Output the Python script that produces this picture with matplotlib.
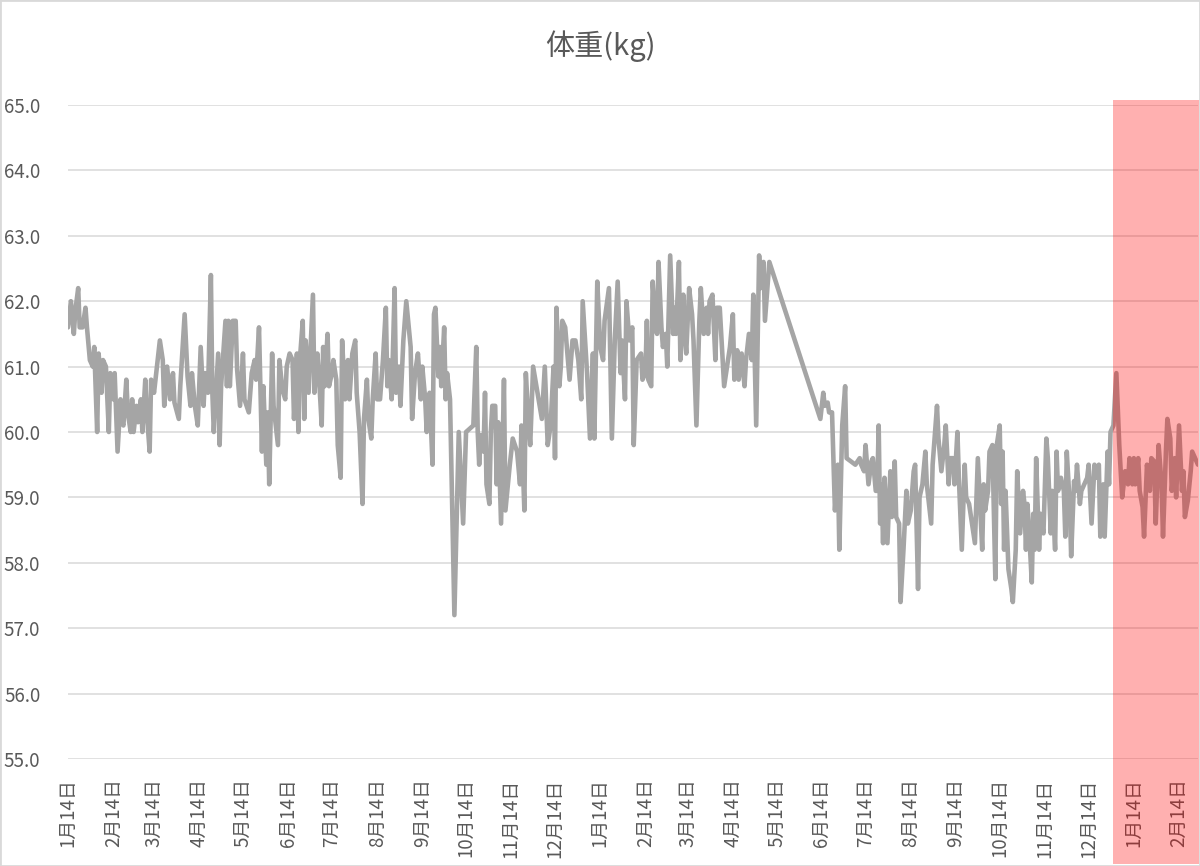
import numpy as np
import pandas as pd
import matplotlib
matplotlib.use('Agg')
import matplotlib.pyplot as plt
import matplotlib.dates as mdates
from matplotlib.patches import Rectangle
from matplotlib.ticker import FormatStrFormatter

plt.rcParams['font.family'] = ['Noto Sans CJK JP', 'DejaVu Sans']

start = pd.Timestamp('2019-01-14')
days = [
    0, 2, 4, 5, 7, 8, 10, 12, 13, 15, 17, 18, 20, 21, 23, 24, 26, 28, 29, 31,
    32, 34, 36, 37, 38, 40, 41, 43, 44, 45, 47, 48, 50, 51, 53, 54, 56, 57, 59, 60,
    63, 65, 66, 68, 70, 72, 73, 76, 77, 80, 82, 84, 85, 87, 89, 91, 93, 94, 96, 98,
    99, 100, 103, 104, 105, 108, 109, 110, 111, 113, 115, 116, 118, 120, 121, 124,
    126, 128, 129, 131, 133, 134, 136, 137, 138, 140, 141, 144, 145, 147, 149, 150, 152, 154, 155, 157,
    158, 159, 161, 162, 163, 165, 168, 169, 171, 172, 174, 175, 176, 178, 179, 181, 182, 184, 185, 187,
    188, 190, 192, 193, 195, 197, 198, 200, 202, 203, 205, 206, 208, 209, 211, 212, 214, 216, 218, 219,
    220, 222, 224, 225, 227, 228, 230, 232, 235, 236, 238, 240, 242, 243, 245, 246, 248, 250, 251, 252,
    254, 255, 256, 258, 259, 260, 262, 265, 268, 271, 273, 278, 280, 281, 282, 283, 285, 286, 287, 289,
    290, 291, 293, 294, 295, 297, 299, 300, 303, 305, 308, 310, 311, 313, 314, 316, 317, 319, 322, 325,
    327, 329, 331, 333, 334, 335, 337, 338, 339, 341, 344, 346, 348, 350, 352, 353, 356, 358, 360, 361,
    363,
    365, 367, 368, 371, 373, 375, 377, 379, 380, 382, 383, 385, 387, 388, 390, 393, 394, 396, 397, 398,
    400, 401, 403, 404, 405, 407, 408, 410, 411, 413, 415, 416, 417, 419, 420, 422, 423, 424, 426, 428,
    429, 431, 433, 434, 436, 438, 439, 440, 442, 444, 445, 447, 448, 450, 452, 454, 456, 457, 459, 460,
    462, 464, 465, 467, 469, 470, 472, 474, 475, 477, 478, 481,
    516, 518, 519, 521, 522, 524, 526, 528, 529, 531, 533, 534, 540, 543, 544, 546, 547, 549, 551, 552,
    554, 555, 556, 557, 558, 559, 560, 562, 564, 565, 567, 568, 570, 571, 573, 575, 576, 578, 580, 581,
    583, 584, 586, 588, 589, 592, 593, 594, 596, 597, 599, 601, 602, 604, 605, 607, 608, 610, 611, 613,
    615, 616, 618, 620, 622, 624, 627, 628, 629, 631, 632, 634, 636, 637, 639, 640, 641, 642, 643, 645,
    647, 648, 650, 651, 653, 655, 656, 657, 658, 659, 661, 662, 663, 664, 666, 667, 669, 671, 672, 674,
    675, 677, 678, 679, 681, 683, 684, 685, 687, 688, 690, 691, 692, 694, 695, 697, 699, 700, 702, 704,
    705, 707, 708, 710, 711, 713, 714, 715, 717, 719, 721, 722, 723, 725, 727, 728, 730, 731, 732, 734,
    735, 737, 738, 740, 742, 743, 745, 746, 748, 750, 751, 753, 754, 756, 757, 759, 760, 762, 764, 765,
    766, 768, 770, 771, 773, 775,
]
weights = [
    61.6, 62.0, 61.5, 61.85, 62.2, 61.6, 61.6, 61.9, 61.6, 61.1, 61.0, 61.3, 60.0, 61.2, 60.6, 61.1, 61.0, 60.0, 60.9, 60.5,
    60.9, 59.7, 60.5, 60.15, 60.1, 60.8, 60.3, 60.0, 60.5, 60.0, 60.4, 60.15, 60.5, 60.0, 60.8, 60.3, 59.7, 60.8, 60.6, 60.8,
    61.4, 61.1, 60.4, 61.0, 60.5, 60.9, 60.45, 60.2, 60.7, 61.8, 60.85, 60.4, 60.9, 60.4, 60.1, 61.3, 60.4, 60.9, 60.6, 62.4,
    60.6, 60.0, 61.2, 59.8, 60.7, 61.7, 60.7, 61.7, 60.7, 61.7, 61.7, 60.95, 60.4, 61.2, 60.5, 60.3,
    60.9, 61.1, 60.8, 61.6, 59.7, 60.7, 59.5, 60.3, 59.2, 61.2, 60.4, 59.8, 61.1, 60.65, 60.5, 61.0, 61.2, 61.1, 60.2, 61.2,
    60.0, 61.1, 61.7, 60.2, 61.4, 60.6, 62.1, 60.6, 61.2, 60.9, 60.1, 61.3, 60.7, 61.5, 60.7, 60.9, 61.1, 60.8, 59.8, 59.3,
    61.4, 60.5, 61.1, 60.5, 61.2, 61.4, 60.6, 60.0, 58.9, 60.2, 60.8, 60.2, 59.9, 60.5, 61.2, 60.5, 60.5, 61.1, 61.9, 60.7,
    61.1, 60.5, 62.2, 60.6, 61.0, 60.4, 61.4, 62.0, 61.3, 60.2, 60.9, 61.2, 60.5, 61.0, 60.5, 60.0, 60.6, 59.5, 61.8, 61.9,
    60.85, 61.3, 60.7, 61.6, 60.5, 60.9, 60.5, 57.2, 60.0, 58.6, 60.0, 60.1, 61.3, 60.0, 59.5, 59.95, 59.7, 60.6, 59.2, 58.9,
    60.0, 60.4, 60.4, 59.2, 60.15, 58.6, 60.8, 58.8, 59.5, 59.9, 59.7, 59.2, 60.1, 58.8, 60.9, 60.1, 59.8, 61.0, 60.6, 60.2,
    61.0, 59.8, 60.1, 61.0, 59.6, 61.9, 60.7, 61.0, 61.7, 61.6, 60.8, 61.4, 61.4, 61.1, 60.5, 62.0, 60.9, 59.9, 61.2, 59.9,
    62.3,
    61.3, 61.1, 61.7, 62.2, 59.9, 61.4, 62.3, 60.9, 61.4, 60.5, 62.0, 61.4, 61.6, 59.8, 61.1, 61.2, 60.8, 60.9, 61.7, 60.8,
    60.7, 62.3, 61.6, 61.5, 62.6, 61.6, 61.3, 61.5, 61.0, 62.7, 61.5, 61.9, 61.5, 62.6, 61.1, 62.1, 61.5, 61.2, 62.2, 61.8,
    61.4, 60.1, 61.7, 62.2, 61.5, 61.9, 61.5, 62.0, 62.1, 61.1, 61.9, 61.9, 61.5, 60.7, 61.0, 61.3, 61.8, 60.8, 61.25, 60.8,
    61.2, 60.7, 61.1, 61.5, 61.1, 62.1, 60.1, 62.7, 62.2, 62.6, 61.7, 62.6,
    60.2, 60.6, 60.4, 60.45, 60.3, 60.3, 58.8, 59.5, 58.2, 60.1, 60.7, 59.6, 59.5, 59.6, 59.5, 59.4, 59.8, 59.2, 59.55, 59.6,
    59.1, 59.1, 60.1, 58.6, 59.2, 58.3, 59.3, 58.3, 59.4, 58.7, 59.55, 58.7, 58.6, 57.4, 58.2, 59.1, 58.6, 58.8, 59.4, 59.5,
    57.6, 59.0, 59.2, 59.7, 59.2, 58.6, 59.5, 59.8, 60.4, 59.9, 59.4, 59.8, 60.1, 59.2, 59.6, 59.6, 59.2, 60.0, 59.3, 58.2,
    59.5, 59.0, 58.9, 58.6, 58.3, 59.6, 58.2, 59.2, 58.8, 59.1, 59.7, 59.8, 57.75, 59.8, 60.1, 58.9, 59.7, 58.2, 59.1, 57.9,
    57.6, 57.4, 58.2, 59.4, 58.45, 59.1, 58.9, 58.2, 58.9, 58.55, 57.7, 58.75, 58.2, 59.6, 58.2, 58.75, 58.45, 59.9, 59.6, 58.45,
    59.1, 58.2, 59.7, 59.1, 59.3, 59.1, 58.4, 59.7, 58.9, 58.1, 59.25, 59.1, 59.5, 58.9, 59.1, 59.2, 59.3, 59.5, 58.6, 59.5,
    59.3, 59.5, 58.4, 59.2, 58.4, 59.7, 59.2, 60.0, 60.1, 60.9, 59.8, 59.4, 59.0, 59.4, 59.2, 59.6, 59.2, 59.6, 59.2, 59.6,
    59.1, 58.85, 58.4, 59.5, 59.1, 59.6, 59.55, 58.6, 59.8, 59.2, 58.4, 59.7, 60.2, 59.9, 59.1, 59.6, 59.0, 60.1, 59.1, 59.4,
    58.7, 58.95, 59.4, 59.7, 59.6, 59.5,
]
assert len(days) == len(weights)

dates = start + pd.to_timedelta(days, unit='D')
end = start + pd.Timedelta(days=775)
tick_dates = pd.date_range(start, end, freq=pd.DateOffset(months=1))
tick_labels = [f'{d.month}月{d.day}日' for d in tick_dates]
y_ticks = np.arange(55, 65.5, 1.0)
highlight_start = pd.Timestamp('2020-12-31')

W, H = 1200, 866
fig = plt.figure(figsize=(W / 100, H / 100), dpi=100)
ax = fig.add_axes([68 / W, 107 / H, 1130 / W, 654 / H])

ax.plot(dates, weights, color='#A5A5A5', lw=3.3,
        solid_joinstyle='round', solid_capstyle='round', zorder=3)

ax.set_ylim(55, 65)
ax.set_yticks(y_ticks)
ax.yaxis.set_major_formatter(FormatStrFormatter('%.1f'))
ax.set_xlim(start, end)
ax.set_xticks(tick_dates)
ax.set_xticklabels(tick_labels, rotation=90, ha='center', va='top')

ax.grid(axis='y', color='#D9D9D9', lw=1.1)
ax.set_axisbelow(True)
for s in ax.spines.values():
    s.set_visible(False)
ax.tick_params(length=0, colors='#595959', labelsize=13.5)
ax.tick_params(axis='y', pad=20)
ax.tick_params(axis='x', pad=14)

fig.text(0.5, 1 - 46 / H, '体重(kg)', ha='center', va='center',
         fontsize=21, color='#595959')

# red highlight over the last part, from the top of the plot to the bottom edge
x0 = ax.transData.transform((mdates.date2num(highlight_start), 0))[0] / W
fig.add_artist(Rectangle((x0, 2 / H), 1199 / W - x0, (H - 100 - 2) / H,
                         transform=fig.transFigure, facecolor='red',
                         edgecolor='none', alpha=0.31, zorder=10))

# thin frame round the whole chart
fig.add_artist(Rectangle((0, 0), 1, 1, transform=fig.transFigure, fill=False,
                         edgecolor='#D9D9D9', lw=2, zorder=11))

fig.savefig('out.png', dpi=100)
